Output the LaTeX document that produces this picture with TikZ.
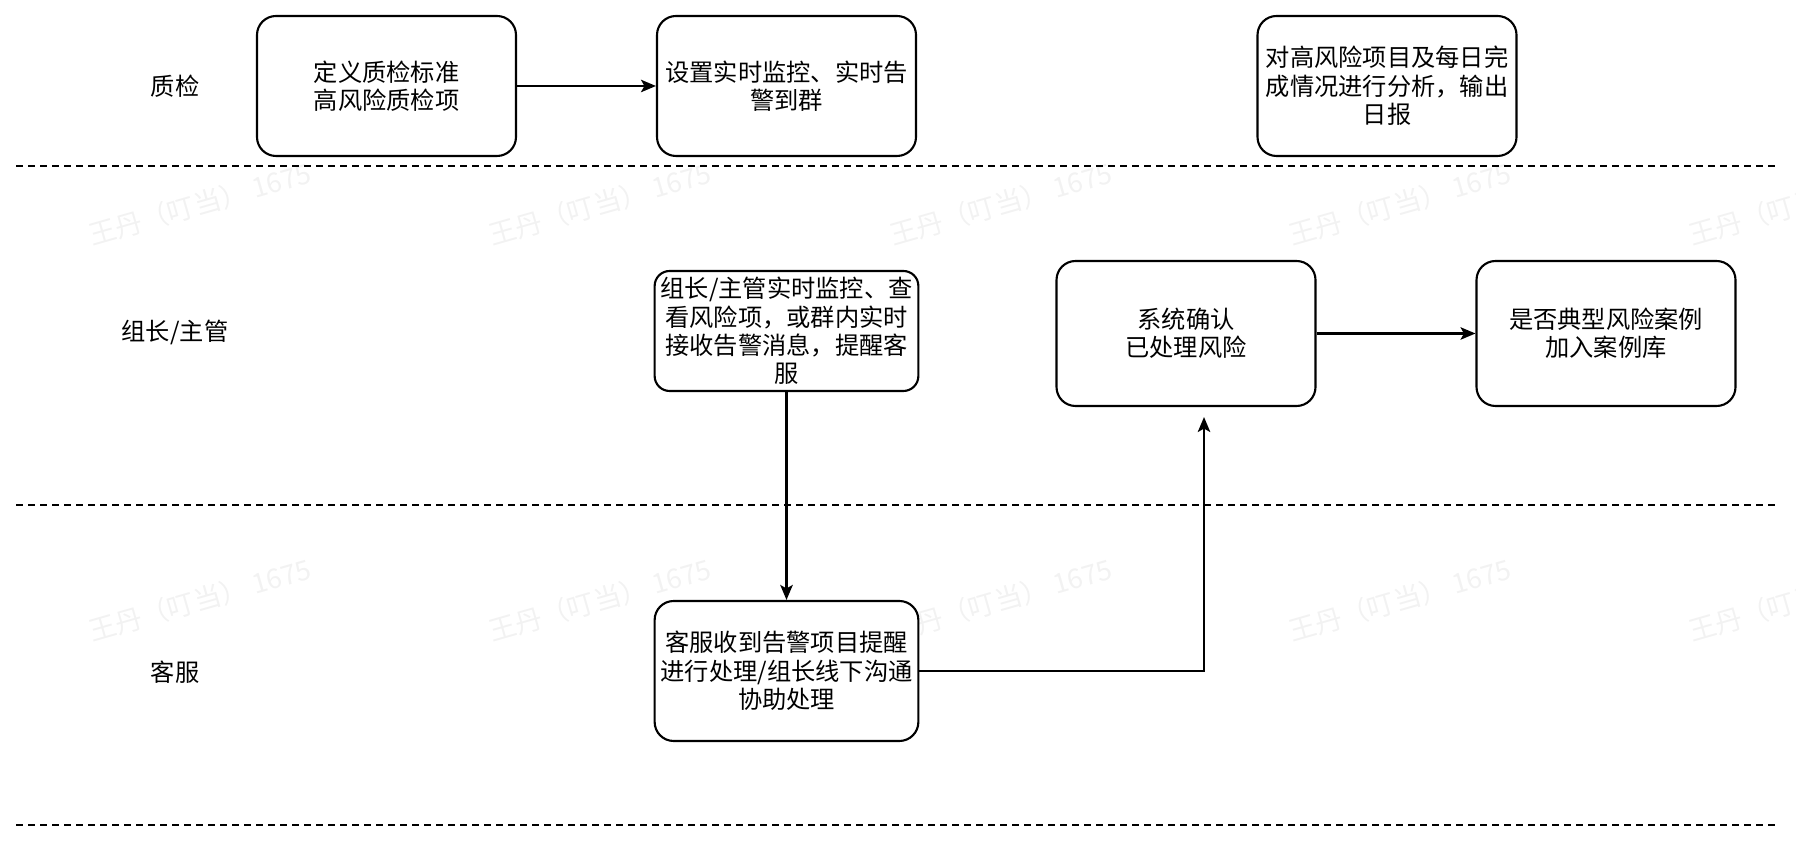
\documentclass[tikz,border=0pt]{standalone}
\usepackage{fontspec}
\setmainfont{Noto Sans CJK SC}
\usetikzlibrary{arrows.meta,calc,positioning}
\tikzset{
    block/.style = {draw, rectangle, rounded corners=0.38cm, fill=white,
        line width=1.2pt,
        minimum height=2.8cm,
        minimum width=5.18cm, align=center,
        font=\fontsize{13.8}{16.2}\selectfont},
    lanelabel/.style = {font=\fontsize{13.8}{16.2}\selectfont},
    arrow/.style = {draw, line width=1.2pt, -{Stealth[length=0.3cm,width=0.25cm,inset=0.07cm]}},
    divider/.style = {draw, line width=1.2pt, dash pattern=on 0.14cm off 0.1cm},
    watermark/.style = {text=black!5, rotate=16, font=\fontsize{15.5}{18}\selectfont}
}

\begin{document}
\begin{tikzpicture}
    \useasboundingbox (0,0) rectangle (35.92,16.92);
    % watermark
    \foreach \i/\x in {1/4.0,2/12.0,3/20.02,4/28.0,5/36.0}{
        \foreach \j/\y in {1/12.84,2/4.92}{
            \node[watermark] (wm\i\j) at (\x,\y) {王丹（叮当） 1675};
        }
    }
    % lanes
    \draw[divider] (0.32,13.6) -- (35.5,13.6);
    \draw[divider] (0.32,6.82) -- (35.5,6.82);
    \draw[divider] (0.32,0.42) -- (35.5,0.42);
    \node[lanelabel] (qc) at (3.5,15.2) {质检};
    \node[lanelabel] (lead) at (3.5,10.28) {组长/主管};
    \node[lanelabel] (cs) at (3.5,3.48) {客服};

    \node[block] (std) at (7.73,15.2) {定义质检标准\\高风险质检项};
    \node[block] (mon) at (15.73,15.2) {设置实时监控、实时告\\警到群};
    \node[block] (rpt) at (27.74,15.2) {对高风险项目及每日完\\成情况进行分析，输出\\日报};
    \node[block, minimum height=2.4cm, rounded corners=0.3cm] (sup) at (15.73,10.3)
        {组长/主管实时监控、查\\看风险项，或群内实时\\接收告警消息，提醒客\\服};
    \node[block, minimum height=2.9cm] (cfm) at (23.72,10.25) {系统确认\\已处理风险};
    \node[block, minimum height=2.9cm] (lib) at (32.12,10.25) {是否典型风险案例\\加入案例库};
    \node[block] (agt) at (15.73,3.5) {客服收到告警项目提醒\\进行处理/组长线下沟通\\协助处理};
    \coordinate (cfmin) at ($(cfm.south)+(0.36,-0.2)$);

    \draw[arrow] (std) -- (mon);
    \draw[arrow] (sup) -- (agt);
    \draw[arrow] (cfm) -- (lib);
    \draw[arrow] (agt.east) -| (cfmin);
\end{tikzpicture}
\end{document}
